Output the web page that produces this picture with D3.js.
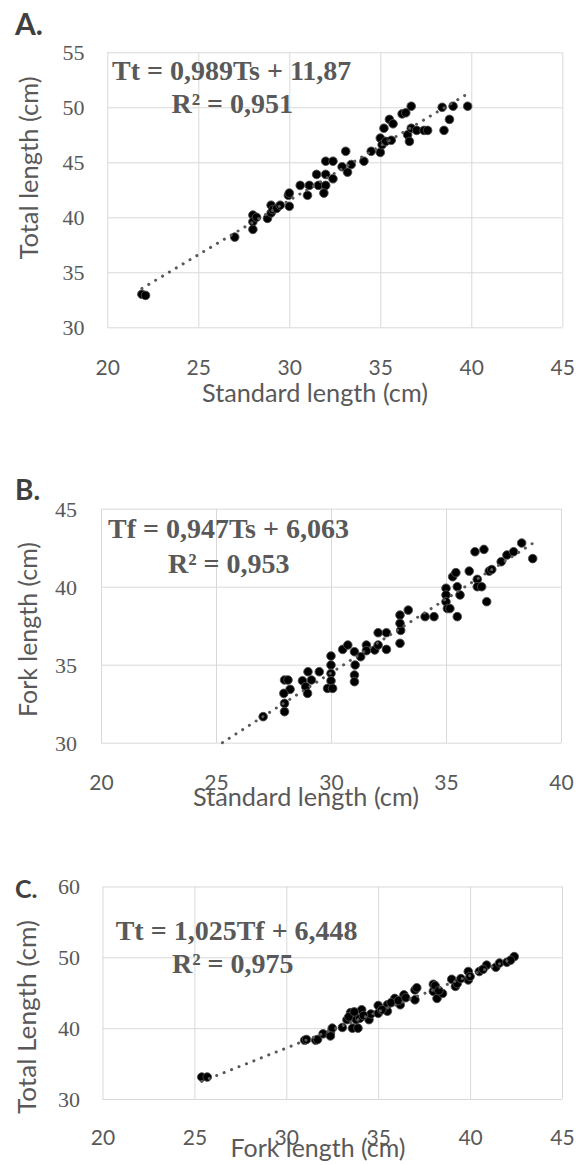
<!DOCTYPE html>
<html><head><meta charset="utf-8">
<script src="https://cdn.jsdelivr.net/npm/d3@7"></script>
<style>body{margin:0;background:#fff}</style>
</head><body>
<svg id="chart" width="576" height="1165"></svg>
<script>
// ---------- DATA ----------
const A_SL = [21.9,22.1,27.0,28.0,28.0,28.0,28.2,28.8,29.0,29.0,29.1,29.3,29.5,29.95,30.0,30.0,30.6,31.0,31.1,31.6,32.0,31.9,31.5,32.0,32.0,32.4,32.4,32.9,33.2,33.1,33.4,34.1,34.5,35.0,35.0,35.1,35.3,35.6,35.2,35.5,35.7,36.2,36.4,36.7,36.5,36.6,36.7,37.0,37.4,37.6,38.4,38.5,38.8,39.0,39.8];
const A_TL = [33.0,32.9,38.2,40.2,39.6,38.9,40.0,39.9,40.4,41.1,40.7,40.8,41.1,42.0,41.0,42.2,42.9,42.0,42.9,42.9,42.9,42.2,43.9,43.9,45.1,45.1,43.5,44.6,44.1,46.0,44.8,45.1,46.0,45.9,47.2,46.6,46.9,47.0,48.1,48.9,48.5,49.4,49.5,50.1,47.5,46.9,48.1,47.9,47.9,47.9,50.0,47.9,48.9,50.1,50.1];

const B_SL = [27.05,27.98,28.13,28.22,27.95,27.98,27.98,28.76,28.9,28.98,29.0,29.15,29.49,30.0,30.0,30.0,30.0,29.85,30.07,30.51,30.73,31.02,31.05,31.02,31.02,31.29,31.54,31.54,31.9,32.05,32.05,32.41,32.41,33.0,33.0,33.03,33.0,33.36,34.09,34.48,35.0,35.0,35.0,35.06,35.17,35.29,35.43,35.49,35.49,35.61,36.01,36.26,36.36,36.36,36.55,36.65,36.77,36.88,36.99,37.4,37.65,37.94,38.29,38.77];
const B_FL = [31.67,34.02,34.02,33.42,33.16,32.52,31.99,33.97,33.59,33.16,34.55,34.02,34.55,35.56,34.98,34.44,33.97,33.48,33.48,35.98,36.26,35.83,34.98,34.34,33.91,35.51,36.26,35.9,35.94,36.26,37.05,37.05,35.98,38.18,36.37,37.2,37.65,38.5,38.08,38.08,39.9,39.47,39.04,38.6,38.6,40.64,40.9,40.0,38.08,39.47,41.0,42.24,40.47,40.0,40.0,42.39,39.04,41.0,41.1,41.6,42.03,42.24,42.8,41.8];

const C_FL = [25.4,25.7,31.0,31.1,31.6,31.7,32.0,32.4,32.5,32.4,33.05,33.3,33.5,33.6,33.9,33.8,34.1,34.0,34.5,34.6,35.0,35.0,35.5,35.5,35.9,36.2,36.4,37.0,37.0,38.0,38.0,38.2,38.5,39.0,39.2,39.9,39.9,40.5,40.9,41.4,41.6,42.0,42.4,33.4,33.7,34.2,35.2,35.7,36.1,36.5,37.1,38.1,38.3,39.3,39.5,40.0,40.7,42.2];
const C_TL = [33.1,33.1,38.3,38.4,38.3,38.4,39.2,39.3,40.0,38.9,40.1,41.2,42.2,40.0,40.0,41.2,42.6,41.4,41.2,42.0,43.2,42.1,43.3,42.4,44.2,43.3,44.7,45.4,44.0,46.2,45.2,44.2,44.9,46.9,45.9,48.0,46.8,48.0,48.9,48.6,49.2,49.3,50.1,41.6,42.3,41.8,42.6,43.6,43.9,44.3,45.7,46.0,45.3,46.3,47.0,47.3,48.3,49.6];

const A_xTicks = [20,25,30,35,40,45], A_yTicks = [30,35,40,45,50,55];
const B_xTicks = [20,25,30,35,40],    B_yTicks = [30,35,40,45];
const C_xTicks = [20,25,30,35,40,45], C_yTicks = [30,40,50,60];

const A_trend = [0.989, 11.87], B_trend = [0.947, 6.063], C_trend = [1.025, 6.448];
const A_trendRange = [21.9, 39.8], B_trendRange = [25.28, 38.85], C_trendRange = [25.4, 42.4];

const A_eq = ["Tt = 0,989Ts + 11,87", "R² = 0,951"];
const B_eq = ["Tf = 0,947Ts + 6,063", "R² = 0,953"];
const C_eq = ["Tt = 1,025Tf + 6,448", "R² = 0,975"];

const panels = [
  {letter:"A.", letterSize:30, letterY:35, xs:A_SL, ys:A_TL, xTicks:A_xTicks, yTicks:A_yTicks, trend:A_trend, range:A_trendRange, eq:A_eq,
   left:107.3, right:562.3, top:52.3, bottom:327.3,
   xLabelY:375, yLabelX:84.5, xTitle:"Standard length (cm)", xTitleX:315, xTitleY:402, xTitleW:226,
   yTitle:"Total length (cm)", yTitleX:38, yTitleC:168, yTitleW:183,
   eqPos:[[112,80],[171.5,113]]},
  {letter:"B.", letterSize:28, letterY:500, xs:B_SL, ys:B_FL, xTicks:B_xTicks, yTicks:B_yTicks, trend:B_trend, range:B_trendRange, eq:B_eq,
   left:101, right:561, top:508.7, bottom:742.7,
   xLabelY:790, yLabelX:77, xTitle:"Standard length (cm)", xTitleX:306, xTitleY:806, xTitleW:226,
   yTitle:"Fork length (cm)", yTitleX:37, yTitleC:629.5, yTitleW:175,
   eqPos:[[108,538],[168,573]]},
  {letter:"C.", letterSize:25, letterY:898, xs:C_FL, ys:C_TL, xTicks:C_xTicks, yTicks:C_yTicks, trend:C_trend, range:C_trendRange, eq:C_eq,
   left:102.5, right:562, top:886.5, bottom:1099,
   xLabelY:1145, yLabelX:80, xTitle:"Fork length (cm)", xTitleX:318, xTitleY:1157, xTitleW:175,
   yTitle:"Total Length (cm)", yTitleX:36, yTitleC:1017, yTitleW:194,
   eqPos:[[115.7,940],[172,973]]}
];

const svg = d3.select("#chart");
const GRAY = "#595959";

function drawPanel(p){
  const x = d3.scaleLinear().domain([p.xTicks[0], p.xTicks[p.xTicks.length-1]]).range([p.left, p.right]);
  const y = d3.scaleLinear().domain([p.yTicks[0], p.yTicks[p.yTicks.length-1]]).range([p.bottom, p.top]);
  const g = svg.append("g");

  // gridlines
  g.append("g").attr("transform", `translate(0,${p.bottom})`)
    .call(d3.axisBottom(x).tickValues(p.xTicks).tickSize(-(p.bottom-p.top)).tickFormat(""))
    .call(a => { a.select(".domain").remove(); a.selectAll("line").attr("stroke","#d9d9d9"); });
  g.append("g").attr("transform", `translate(${p.left},0)`)
    .call(d3.axisLeft(y).tickValues(p.yTicks).tickSize(-(p.right-p.left)).tickFormat(""))
    .call(a => { a.select(".domain").remove(); a.selectAll("line").attr("stroke","#d9d9d9"); });

  // tick labels
  g.append("g").attr("transform", `translate(0,${p.xLabelY})`)
    .call(d3.axisBottom(x).tickValues(p.xTicks).tickSize(0).tickPadding(0).tickFormat(d3.format("d")))
    .call(a => { a.select(".domain").remove();
      a.selectAll("text").attr("y",0).attr("dy",0).attr("font-family","Lato").attr("font-size",21).attr("fill",GRAY); });
  g.append("g").attr("transform", `translate(${p.yLabelX},0)`)
    .call(d3.axisLeft(y).tickValues(p.yTicks).tickSize(0).tickPadding(0).tickFormat(d3.format("d")))
    .call(a => { a.select(".domain").remove();
      a.selectAll("text").attr("x",0).attr("dy","0.34em").attr("font-family","Liberation Serif").attr("font-size",22).attr("fill",GRAY); });

  // points
  const pts = p.xs.map((v,i)=>[v,p.ys[i]]);
  g.append("g").selectAll("circle").data(pts).join("circle")
    .attr("cx", d=>x(d[0])).attr("cy", d=>y(d[1])).attr("r",4.3)
    .attr("fill","#000").attr("stroke","#4d4d4d").attr("stroke-width",0.9);

  // trendline
  const line = d3.line().x(d=>x(d)).y(d=>y(p.trend[0]*d + p.trend[1]));
  g.append("path").datum(p.range).attr("d", line)
    .attr("fill","none").attr("stroke",GRAY).attr("stroke-width",3)
    .attr("stroke-linecap","round").attr("stroke-dasharray","0.1 7.9");

  // equations
  p.eq.forEach((t,i)=>{
    g.append("text").attr("x",p.eqPos[i][0]).attr("y",p.eqPos[i][1])
      .attr("font-family","Liberation Serif").attr("font-weight","bold").attr("font-size",28)
      .attr("fill",GRAY).text(t);
  });

  // panel letter
  g.append("text").attr("x",15).attr("y",p.letterY)
    .attr("font-family","Lato").attr("font-weight","bold").attr("font-size",p.letterSize)
    .attr("fill","#404040").text(p.letter);

  // axis titles
  g.append("text").attr("x",p.xTitleX).attr("y",p.xTitleY).attr("text-anchor","middle")
    .attr("font-family","Lato").attr("font-size",25).attr("fill",GRAY)
    .attr("textLength",p.xTitleW).attr("lengthAdjust","spacingAndGlyphs").text(p.xTitle);
  g.append("text").attr("transform",`translate(${p.yTitleX},${p.yTitleC}) rotate(-90)`).attr("text-anchor","middle")
    .attr("font-family","Lato").attr("font-size",25).attr("fill",GRAY)
    .attr("textLength",p.yTitleW).attr("lengthAdjust","spacingAndGlyphs").text(p.yTitle);
}

panels.forEach(drawPanel);
</script>
</body></html>
